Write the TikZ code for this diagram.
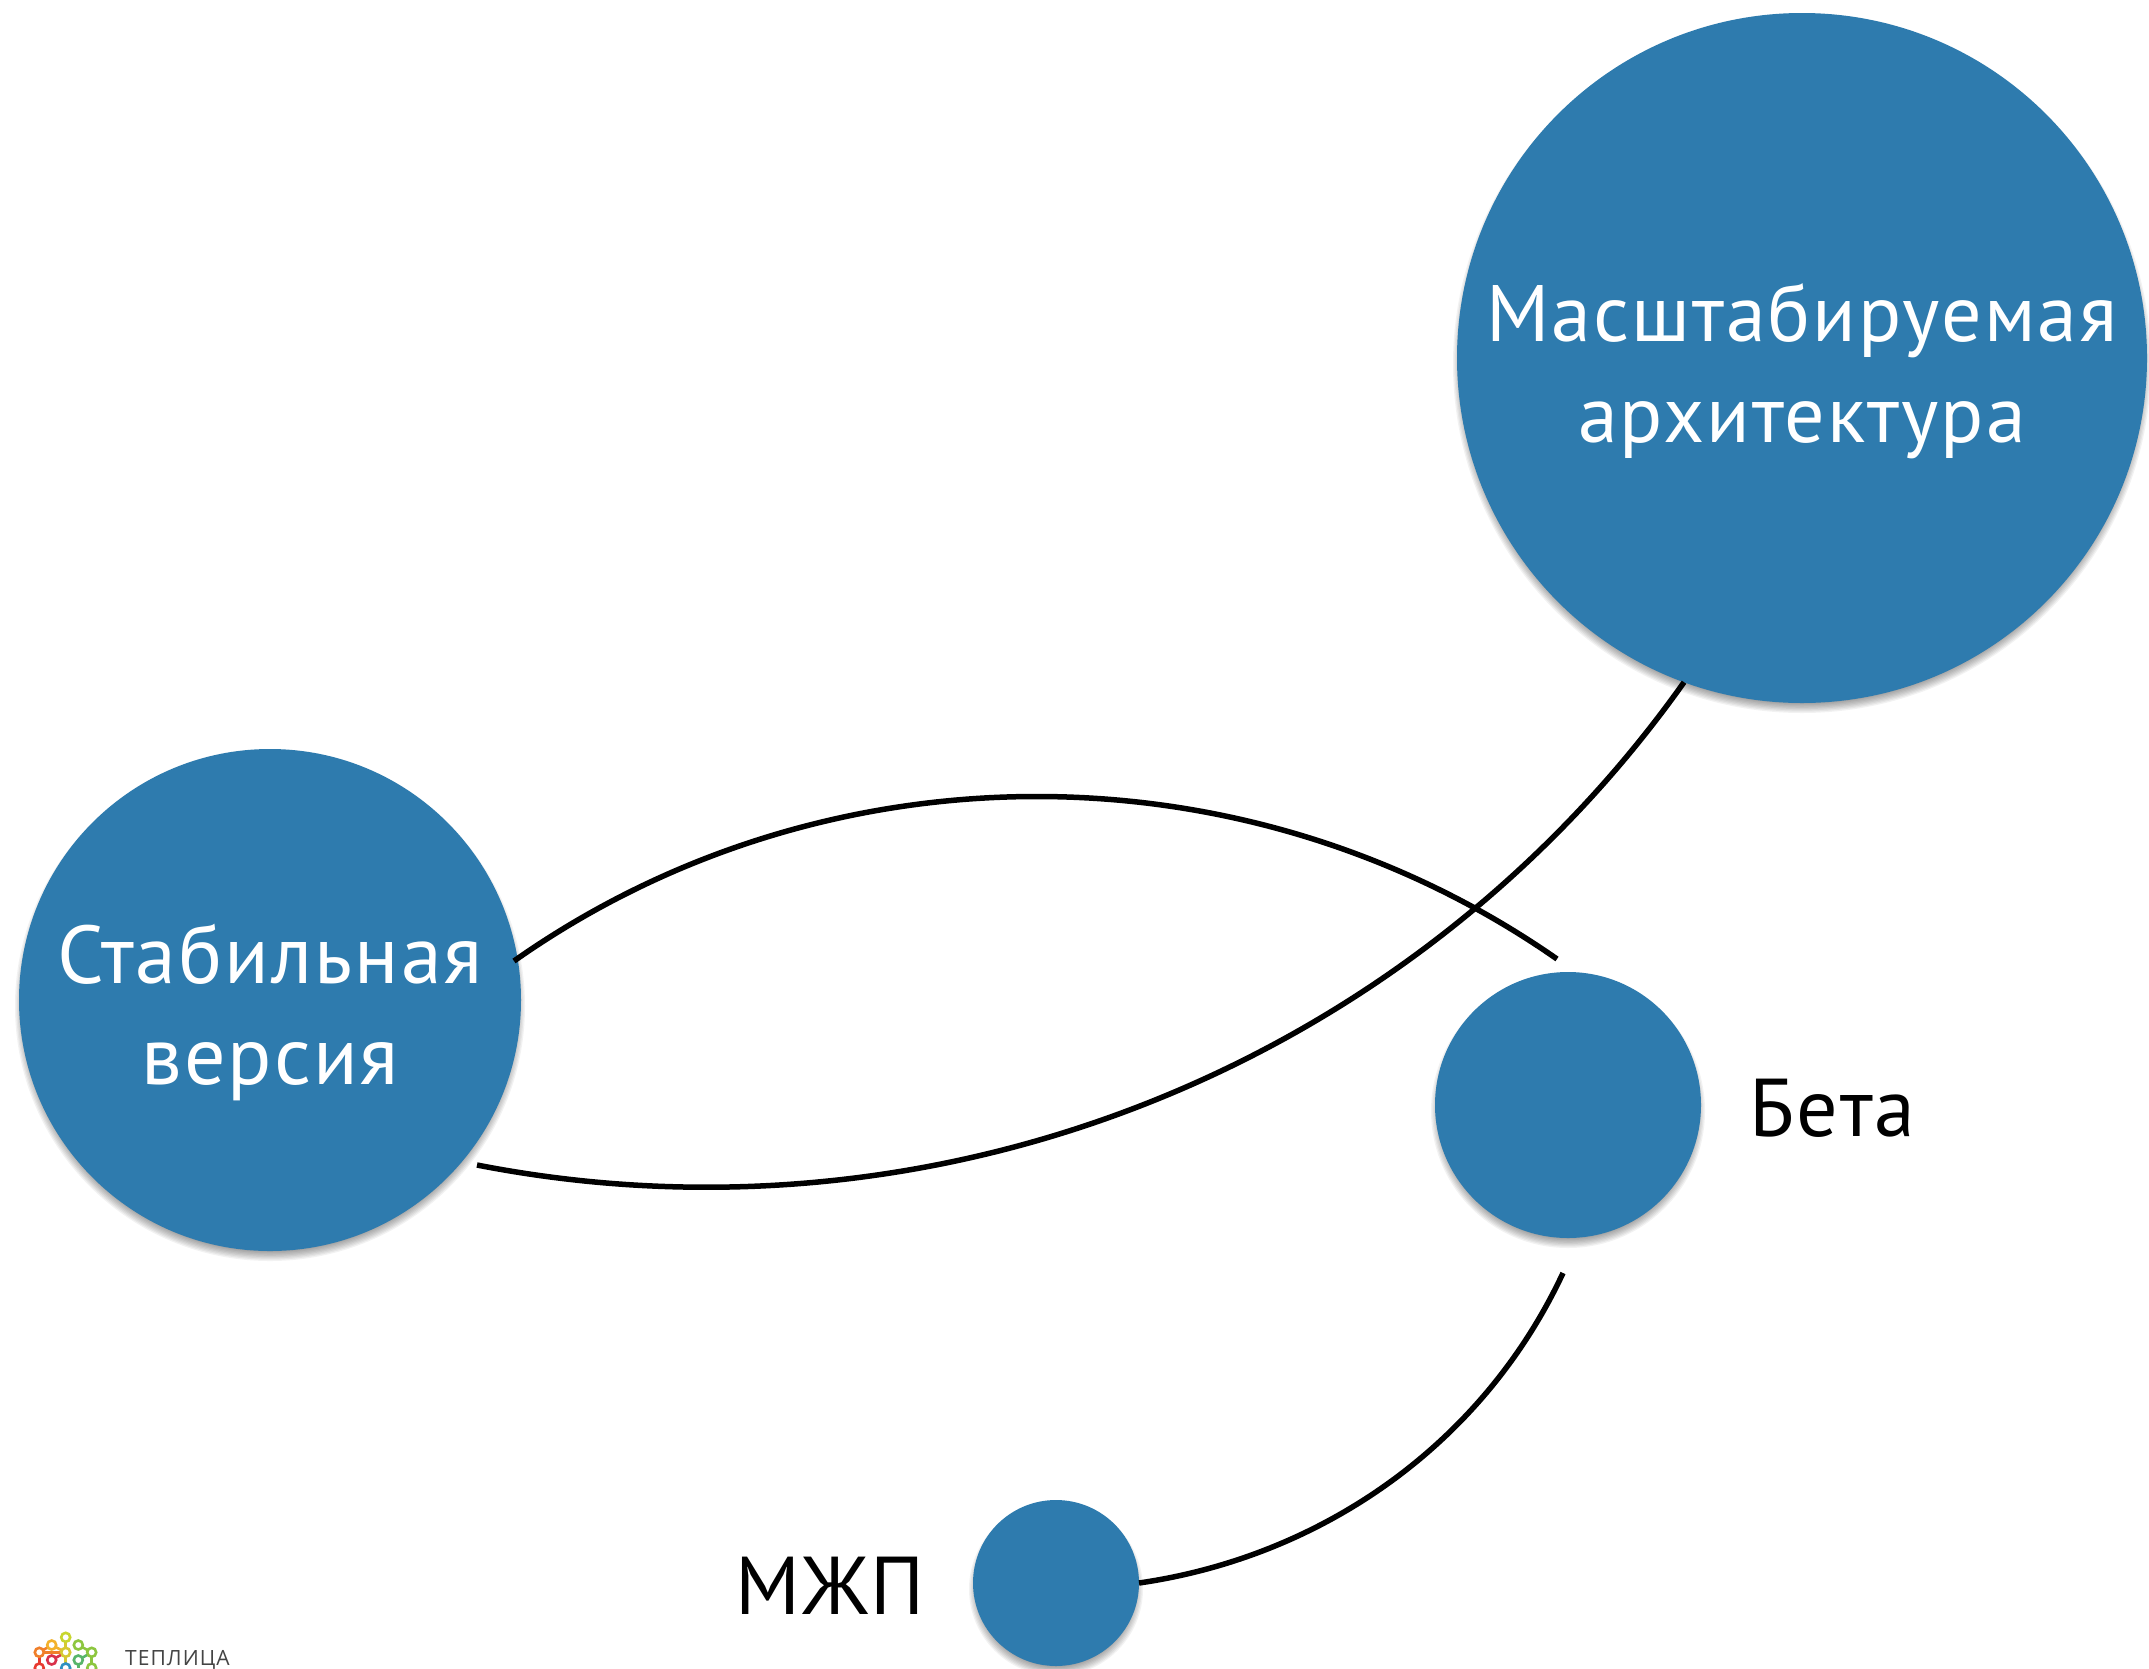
\documentclass[tikz,border=0pt]{standalone}
\usepackage{fontspec}
\setmainfont{PT Sans}
\newfontfamily\dinfont[LetterSpace=2.5]{PT Sans}
\newfontfamily\logofont[LetterSpace=5]{Open Sans}
\usetikzlibrary{calc}
\definecolor{discblue}{HTML}{2E7BAE}
\definecolor{logotext}{HTML}{444444}
\definecolor{lgA}{HTML}{C8D62E}
\definecolor{lgB}{HTML}{F3B12B}
\definecolor{lgC}{HTML}{F07F2A}
\definecolor{lgD}{HTML}{D6C832}
\definecolor{lgE}{HTML}{8DC63F}
\definecolor{lgF}{HTML}{57B56A}
\definecolor{lgG}{HTML}{D9304A}
\definecolor{lgH}{HTML}{E8392F}
\definecolor{lgI}{HTML}{2F8FC0}
\tikzset{
  disc/.style={circle,fill=discblue,draw=none,inner sep=0pt,outer sep=0pt,text=white,align=center,
    font=\dinfont\fontsize{82pt}{101pt}\selectfont},
  sidelabel/.style={text=black,inner sep=0pt,font=\dinfont\fontsize{82pt}{101pt}\selectfont},
  link/.style={draw=black,line width=5.5pt},
  ring/.style={line width=2.6pt,fill=white}
}
\newcommand{\softshadow}[3]{%
  \foreach \k in {0,1,...,7}{
    \fill[black,fill opacity=0.05] (#1,#2+6) circle[radius={(#3+4-\k*1.3)*1pt}];
  }%
}
\newcommand{\lowerstrut}{\rule{0pt}{84pt}}
\begin{document}
\begin{tikzpicture}[x=1pt,y=-1pt]
\useasboundingbox (0,0) rectangle (2149,1668);
\fill[white] (0,0) rectangle (2149,1668);
\softshadow{1802}{358}{345}
\softshadow{270}{1000}{251}
\softshadow{1568}{1105}{133}
\softshadow{1056}{1583}{83}
\node[disc,minimum size=690pt,font=\dinfont\fontsize{80pt}{101pt}\selectfont] (scal) at (1802,358) {\lowerstrut Масштабируемая\\архитектура};
\node[disc,minimum size=502pt] (stable) at (270,1000) {\lowerstrut Стабильная\\версия};
\node[disc,minimum size=266pt] (beta) at (1568,1105) {};
\node[disc,minimum size=166pt] (mzp) at (1056,1583) {};
\node[sidelabel,anchor=base west] (betalabel) at (1749,1136) {Бета};
\node[sidelabel,anchor=base east] (mzplabel) at (925,1614) {МЖП};
\coordinate (stableIn) at (514,961);
\coordinate (stableOut) at (477,1165);
\coordinate (betaIn) at (1557,959);
\coordinate (betaOut) at (1563,1273);
\draw[link] (stableIn) .. controls (825,742) and (1246,742) .. (betaIn);
\draw[link] (stableOut) .. controls (938,1255) and (1411,1067) .. (scal.250);
\draw[link] (betaOut) .. controls (1484,1442) and (1325,1556) .. (mzp.0);
% logo
\begin{scope}
\draw[lgD,line width=2.6pt] (65.7,1637.3) -- (65.7,1652.3);
\draw[lgC,line width=2.6pt] (39.3,1652.3) -- (51.7,1645);
\draw[lgB,line width=2.6pt] (65.7,1652.3) -- (51.7,1645);
\draw[lgE,line width=2.6pt] (78.3,1645) -- (91.7,1652.3);
\draw[lgC,line width=2.6pt] (39.3,1652.3) -- (65.7,1652.3);
\draw[lgH,line width=2.6pt] (39.3,1652.3) -- (39.3,1668);
\draw[lgG,line width=2.6pt] (51.7,1660) -- (65.7,1652.3);
\draw[lgD,line width=2.6pt] (65.7,1652.3) -- (65.7,1668);
\draw[lgF,line width=2.6pt] (78.3,1660) -- (91.7,1652.3);
\draw[lgE,line width=2.6pt] (91.7,1652.3) -- (91.7,1668);
\draw[lgF,line width=2.6pt] (78.3,1660) -- (78.3,1668);
\foreach \px/\py/\c in {65.7/1637.3/lgA,51.7/1645/lgB,39.3/1652.3/lgC,65.7/1652.3/lgD,78.3/1645/lgE,91.7/1652.3/lgE,78.3/1660/lgF,51.7/1660/lgG,39.3/1668/lgH,91.7/1668/lgE,65.7/1668/lgI}{
  \draw[ring,draw=\c] (\px,\py) circle[radius=4.5pt];
}
\end{scope}
\node[anchor=base west,inner sep=0pt,text=logotext,font=\logofont\fontsize{21pt}{24pt}\selectfont] (logoname) at (125,1665) {ТЕПЛИЦА};
\end{tikzpicture}
\end{document}
